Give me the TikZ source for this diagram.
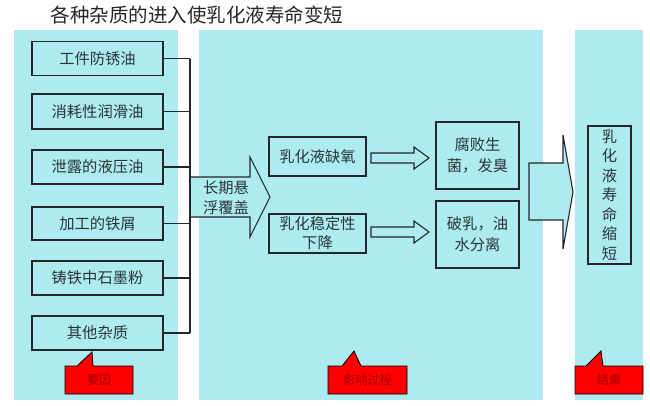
\documentclass[tikz,border=0pt]{standalone}
\usepackage{fontspec}
\setmainfont{Noto Sans CJK SC}
\definecolor{panel}{HTML}{AEEBF0}
\definecolor{txt}{HTML}{2A3636}
\definecolor{edge}{HTML}{262626}
\definecolor{callred}{HTML}{FF0000}
\definecolor{calltxt}{HTML}{A00000}
\tikzset{
  panelbox/.style={fill=panel, draw=none},
  box/.style={draw=edge, line width=1.2pt, fill=panel, inner sep=0pt, align=center,
    text=txt, font=\fontsize{15.3}{19}\selectfont},
  link/.style={draw=edge, line width=1.1pt},
  fatarrow/.style={draw=edge, line width=1.1pt, fill=panel, line join=miter},
  callout/.style={draw=black, line width=0.8pt, fill=callred},
  calltext/.style={text=calltxt, font=\fontsize{12}{14}\selectfont, inner sep=0pt},
}
\begin{document}
\begin{tikzpicture}[x=1pt,y=-1pt]
\useasboundingbox (0,0) rectangle (650,405);
\fill[white] (0,0) rectangle (650,405);

% title
\node[text=black!85, font=\fontsize{19.5}{23}\selectfont, anchor=center] (title) at (197,15) {各种杂质的进入使乳化液寿命变短};

% panels
\path[panelbox] (14,30) rectangle (178,400);
\path[panelbox] (199,30) rectangle (543,400);
\path[panelbox] (575,30) rectangle (643,400);

% left boxes
\node[box, minimum width=131pt, minimum height=34pt] (b1) at (97.5,58.5) {工件防锈油};
\node[box, minimum width=131pt, minimum height=35pt] (b2) at (97.5,111.5) {消耗性润滑油};
\node[box, minimum width=131pt, minimum height=34pt] (b3) at (97.5,167) {泄露的液压油};
\node[box, minimum width=131pt, minimum height=33pt] (b4) at (97.5,223.5) {加工的铁屑};
\node[box, minimum width=131pt, minimum height=34pt] (b5) at (97.5,278) {铸铁中石墨粉};
\node[box, minimum width=131pt, minimum height=34pt] (b6) at (97.5,333) {其他杂质};

% bus
\coordinate (bus) at (190,0);
\foreach \b in {b1,b2,b3,b4,b5,b6} {
  \draw[link] (\b.east) -- (\b.east -| bus);
}

% big arrow 1
\path[fatarrow] (190,177) -- (250,177) -- (250,157) -- (270,197) -- (250,237) -- (250,217) -- (190,217);
\path[fill=panel] (190.6,177.6) rectangle (200,216.4);
\draw[link] (b1.east -| bus) -- (b6.east -| bus);
\node[text=txt, font=\fontsize{15.3}{20}\selectfont, align=center, inner sep=0pt] (a1) at (226,198) {长期悬\\浮覆盖};

% middle boxes
\node[box, minimum width=97pt, minimum height=39pt] (m1) at (317.5,156.5) {乳化液缺氧};
\node[box, minimum width=97pt, minimum height=39pt] (m2) at (317.5,233.5) {乳化稳定性\\下降};

% small arrows
\path[fatarrow, line width=1.1pt] (371,153) -- (414,153) -- (414,147) -- (429,158) -- (414,169) -- (414,163) -- (371,163) -- cycle;
\path[fatarrow, line width=1.1pt] (371,227) -- (414,227) -- (414,221) -- (429,232) -- (414,243) -- (414,237) -- (371,237) -- cycle;

% right boxes
\node[box, minimum width=83pt, minimum height=67pt, font=\fontsize{15.3}{21}\selectfont] (r1) at (477.5,155.5) {腐败生\\菌，发臭};
\node[box, minimum width=83pt, minimum height=67pt, font=\fontsize{15.3}{21}\selectfont] (r2) at (477.5,234.5) {破乳，油\\水分离};

% big arrow 2
\path[fatarrow] (529,163) -- (563,163) -- (563,135) -- (573,192) -- (563,249) -- (563,220) -- (529,220) -- cycle;

% result box
\node[box, minimum width=43pt, minimum height=138pt, font=\fontsize{15.3}{19.5}\selectfont] (res) at (609.5,195) {乳\\化\\液\\寿\\命\\缩\\短};

% callouts
\path[callout] (65,366) -- (77,366) -- (92,352) -- (93,366) -- (133,366) -- (133,394) -- (65,394) -- cycle;
\node[calltext] (c1) at (99,380) {要因};
\path[callout] (328,366) -- (342,366) -- (354,351) -- (361,366) -- (407,366) -- (407,394) -- (328,394) -- cycle;
\node[calltext] (c2) at (367.5,380) {影响过程};
\path[callout] (575,366) -- (586,366) -- (601,351) -- (603,366) -- (643,366) -- (643,394) -- (575,394) -- cycle;
\node[calltext] (c3) at (609,380) {结果};
\end{tikzpicture}
\end{document}
